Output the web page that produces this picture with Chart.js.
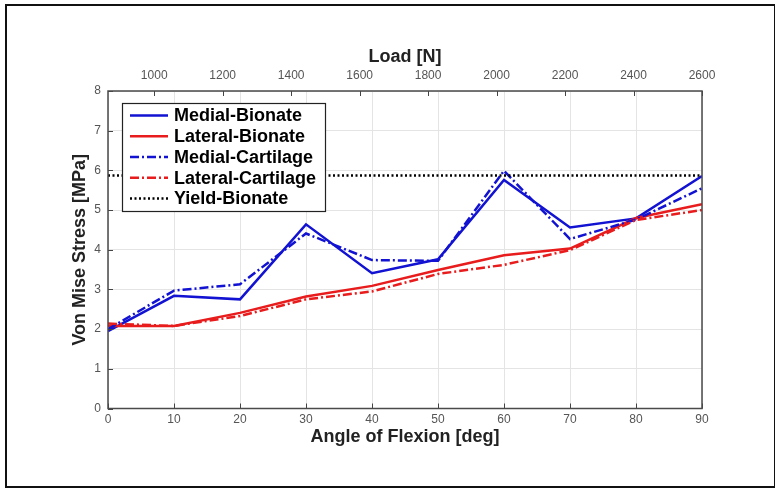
<!DOCTYPE html>
<html>
<head>
    <title>Von Mises Stress vs Flexion</title>
    <meta charset="utf-8" />
    <script src="https://cdn.jsdelivr.net/npm/chart.js@4.4.1/dist/chart.umd.min.js"></script>
    <style>
        html, body {
            margin: 0;
            padding: 0;
            background: #fff;
        }
        #wrap {
            position: relative;
            width: 775px;
            height: 489px;
            overflow: hidden;
        }
        #frame {
            position: absolute;
            left: 5px;
            top: 4px;
            width: 767px;
            height: 480px;
            border: 2px solid #111;
            pointer-events: none;
        }
    </style>
</head>
<body>
    <div id="wrap">
        <canvas id="chart" width="775" height="489"></canvas>
        <div id="frame"></div>
    </div>

    <script>
        const angles = [0, 10, 20, 30, 40, 50, 60, 70, 80, 90];
        const loadTicks = [1000, 1200, 1400, 1600, 1800, 2000, 2200, 2400, 2600];
        const loadMin = 865;

        const medialBionate    = [1.95, 2.84, 2.75, 4.64, 3.41, 3.76, 5.76, 4.56, 4.79, 5.86];
        const lateralBionate   = [2.08, 2.08, 2.41, 2.82, 3.09, 3.49, 3.86, 4.03, 4.80, 5.15];
        const medialCartilage  = [2.00, 2.97, 3.13, 4.41, 3.74, 3.72, 5.99, 4.27, 4.76, 5.55];
        const lateralCartilage = [2.14, 2.08, 2.33, 2.75, 2.95, 3.39, 3.62, 3.99, 4.75, 5.00];
        const yieldBionate = 5.87;

        const FONT = '"Liberation Sans", Arial, Helvetica, sans-serif';
        const BLUE = 'rgb(18, 18, 210)';
        const RED = 'rgb(232, 28, 28)';
        const DASHDOT = [9, 3, 2, 3];

        const pts = vals => vals.map((v, i) => ({ x: angles[i], y: v }));

        // inward tick marks and the axes box
        const axesBox = {
            id: 'axesBox',
            afterDatasetsDraw(chart) {
                const { ctx, chartArea: a, scales } = chart;
                ctx.save();
                ctx.strokeStyle = '#444';
                ctx.lineWidth = 1;
                ctx.beginPath();
                scales.x.ticks.forEach(t => {
                    const px = Math.round(scales.x.getPixelForValue(t.value)) + 0.5;
                    ctx.moveTo(px, a.bottom);
                    ctx.lineTo(px, a.bottom - 5);
                });
                scales.load.ticks.forEach(t => {
                    const px = Math.round(scales.load.getPixelForValue(t.value)) + 0.5;
                    ctx.moveTo(px, a.top);
                    ctx.lineTo(px, a.top + 5);
                });
                scales.y.ticks.forEach(t => {
                    const py = Math.round(scales.y.getPixelForValue(t.value)) + 0.5;
                    ctx.moveTo(a.left, py);
                    ctx.lineTo(a.left + 5, py);
                });
                ctx.stroke();
                ctx.strokeStyle = '#4a4a4a';
                ctx.lineWidth = 1.5;
                ctx.strokeRect(a.left, a.top, a.right - a.left, a.bottom - a.top);
                ctx.restore();
            }
        };

        // boxed legend inside the upper-left corner of the plot
        const legendBox = {
            id: 'legendBox',
            afterDraw(chart) {
                const { ctx, chartArea: a } = chart;
                const x0 = a.left + 14, y0 = a.top + 12, w = 203, h = 108;
                ctx.save();
                ctx.fillStyle = '#fff';
                ctx.fillRect(x0, y0, w, h);
                ctx.strokeStyle = '#222';
                ctx.lineWidth = 1.2;
                ctx.strokeRect(x0 + 0.5, y0 + 0.5, w, h);
                ctx.font = 'bold 18px ' + FONT;
                ctx.textBaseline = 'middle';
                chart.data.datasets.forEach((ds, i) => {
                    const cy = y0 + 12.5 + i * 20.75;
                    ctx.strokeStyle = ds.borderColor;
                    ctx.lineWidth = ds.borderWidth;
                    ctx.setLineDash(ds.borderDash || []);
                    ctx.beginPath();
                    ctx.moveTo(x0 + 8, cy);
                    ctx.lineTo(x0 + 46, cy);
                    ctx.stroke();
                    ctx.setLineDash([]);
                    ctx.fillStyle = '#000';
                    ctx.fillText(ds.label, x0 + 52, cy + 1);
                });
                ctx.restore();
            }
        };

        const tickFont = { family: FONT, size: 12 };
        const titleFont = { family: FONT, size: 18, weight: 'bold' };

        new Chart(document.getElementById('chart'), {
            type: 'line',
            data: {
                datasets: [
                    {
                        label: 'Medial-Bionate',
                        data: pts(medialBionate),
                        borderColor: BLUE,
                        borderWidth: 2.5,
                        order: 5
                    },
                    {
                        label: 'Lateral-Bionate',
                        data: pts(lateralBionate),
                        borderColor: RED,
                        borderWidth: 2.5,
                        order: 4
                    },
                    {
                        label: 'Medial-Cartilage',
                        data: pts(medialCartilage),
                        borderColor: BLUE,
                        borderWidth: 2.5,
                        borderDash: DASHDOT,
                        order: 3
                    },
                    {
                        label: 'Lateral-Cartilage',
                        data: pts(lateralCartilage),
                        borderColor: RED,
                        borderWidth: 2.5,
                        borderDash: DASHDOT,
                        order: 2
                    },
                    {
                        label: 'Yield-Bionate',
                        data: [
                            { x: angles[0], y: yieldBionate },
                            { x: angles[angles.length - 1], y: yieldBionate }
                        ],
                        borderColor: '#000',
                        borderWidth: 2.5,
                        borderDash: [2, 2.5],
                        order: 1
                    }
                ]
            },
            options: {
                responsive: false,
                animation: false,
                events: [],
                layout: { padding: { left: 0, right: 73, top: 0, bottom: 0 } },
                elements: {
                    point: { radius: 0 },
                    line: { tension: 0, fill: false, borderCapStyle: 'butt' }
                },
                plugins: {
                    legend: { display: false },
                    tooltip: { enabled: false }
                },
                scales: {
                    x: {
                        type: 'linear',
                        position: 'bottom',
                        min: 0,
                        max: 90,
                        afterBuildTicks: s => { s.ticks = angles.map(v => ({ value: v })); },
                        afterFit: s => { s.height = 80.5; },
                        grid: { color: '#e4e4e4', drawTicks: false },
                        border: { display: false },
                        ticks: { font: tickFont, color: '#555', padding: 4, maxRotation: 0 },
                        title: {
                            display: true,
                            text: 'Angle of Flexion [deg]',
                            font: titleFont,
                            color: '#222',
                            padding: { top: 0, bottom: 41 }
                        }
                    },
                    load: {
                        type: 'linear',
                        position: 'top',
                        min: loadMin,
                        max: loadTicks[loadTicks.length - 1],
                        afterBuildTicks: s => { s.ticks = loadTicks.map(v => ({ value: v })); },
                        afterFit: s => { s.height = 91; },
                        grid: { display: false, drawTicks: false },
                        border: { display: false },
                        ticks: {
                            font: tickFont,
                            color: '#555',
                            padding: 8,
                            maxRotation: 0,
                            callback: v => String(v)
                        },
                        title: {
                            display: true,
                            text: 'Load [N]',
                            font: titleFont,
                            color: '#222',
                            padding: { top: 46, bottom: 0 }
                        }
                    },
                    y: {
                        type: 'linear',
                        position: 'left',
                        min: 0,
                        max: 8,
                        ticks: { stepSize: 1, font: tickFont, color: '#555', padding: 7 },
                        afterFit: s => { s.width = 108; },
                        grid: { color: '#e4e4e4', drawTicks: false },
                        border: { display: false },
                        title: {
                            display: true,
                            text: 'Von Mise Stress [MPa]',
                            font: titleFont,
                            color: '#222',
                            padding: { top: 69, bottom: 0 }
                        }
                    }
                }
            },
            plugins: [axesBox, legendBox]
        });
    </script>
</body>
</html>
